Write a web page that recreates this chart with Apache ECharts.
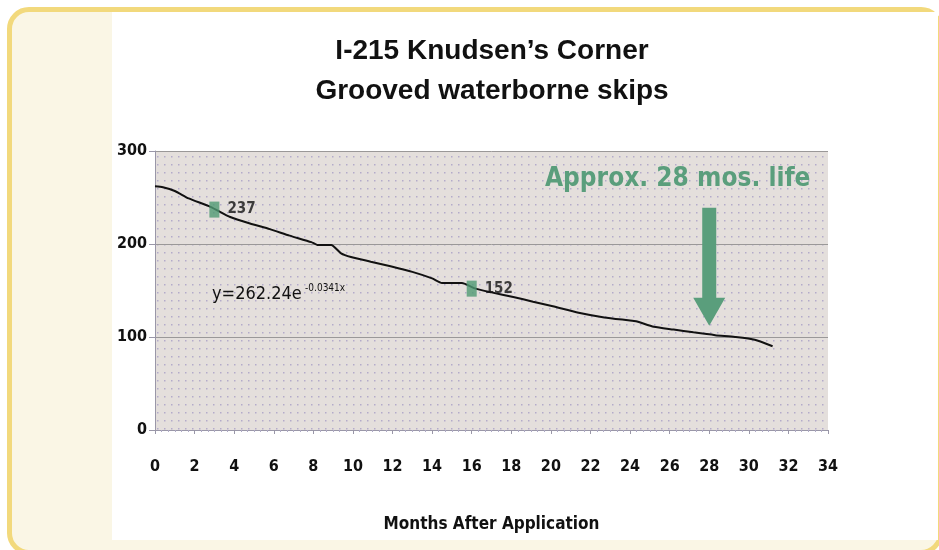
<!DOCTYPE html>
<html>
<head>
<meta charset="utf-8">
<script src="https://cdn.jsdelivr.net/npm/echarts@6/dist/echarts.min.js"></script>
<style>
  body { margin: 0; background: #fff; }
  .frame {
    position: absolute; left: 7px; top: 7px; width: 936px; height: 548px;
    box-sizing: border-box; border: 5px solid #f2d97c; border-radius: 22px;
    background: #faf6e5;
  }
  .paper { position: absolute; left: 112px; top: 12px; width: 826px; height: 528px; background: #fff; }
  #chart { position: absolute; left: 0; top: 0; width: 939px; height: 550px; }
</style>
</head>
<body>
<div class="frame"></div>
<div class="paper"></div>
<div id="chart"></div>
<script>
// readings (months after application, skips)
var months = [0, 0.4, 1.0, 1.7, 2.8, 3.8, 4.8, 5.8, 6.8, 7.9, 8.2, 8.9, 9.4, 9.9, 10.9, 11.9, 13.0, 14.0, 14.5, 15.5,
  16.2, 17.0, 18.1, 19.1, 20.1, 21.4, 22.7, 23.9, 24.3, 25.2, 26.2, 27.2, 28.3, 29.3, 30.3, 31.2];
var skips = [262, 261, 257, 249, 240, 229, 222, 216, 209, 202, 199, 199, 190, 186, 181, 176, 170, 163, 158, 158,
  152, 148, 143, 138, 133, 126, 121, 118, 117, 111, 108, 105, 102, 100, 97, 90];
// measured points
var pointMonths = [3, 16];
var pointValues = [237, 152];
var lifeMonth = 28;
var lifeValue = 112;

var narrow = '"Liberation Sans Narrow", "DejaVu Sans Condensed", sans-serif';
var green = '#5a9e7c';

// dotted plot background
var tile = document.createElement('canvas');
tile.width = 7; tile.height = 8;
var c = tile.getContext('2d');
c.fillStyle = '#e4dfdc';
c.fillRect(0, 0, 7, 8);
c.fillStyle = '#b3abca';
c.fillRect(3, 4, 1.5, 1.5);

var linePts = months.map(function (m, i) { return [m, skips[i]]; });
var markPts = pointMonths.map(function (m, i) { return [m, pointValues[i]]; });

var chart = echarts.init(document.getElementById('chart'));
chart.setOption({
  animation: false,
  title: {
    text: 'I-215 Knudsen\u2019s Corner\nGrooved waterborne skips',
    left: 487, top: 26, textAlign: 'center',
    textStyle: { fontFamily: 'Liberation Sans, Arial, sans-serif', fontWeight: 'bold', fontSize: 28, lineHeight: 40, color: '#111' }
  },
  grid: {
    left: 155, right: 111, top: 151, bottom: 120,
    show: true, borderWidth: 0,
    backgroundColor: { image: tile, repeat: 'repeat' }
  },
  xAxis: {
    type: 'value', min: 0, max: 34, interval: 2,
    name: 'Months After Application', nameLocation: 'middle', nameGap: 86,
    nameTextStyle: { fontFamily: narrow, fontWeight: 'bold', fontSize: 17, color: '#111' },
    axisLine: { lineStyle: { color: '#9a97a8', width: 1 } },
    axisTick: { length: 4, lineStyle: { color: '#9a97a8' } },
    minorTick: { show: true, splitNumber: 6, length: 2, lineStyle: { color: '#b0abc5' } },
    axisLabel: { margin: 29, fontFamily: narrow, fontWeight: 'bold', fontSize: 16, color: '#111' },
    splitLine: { show: false }
  },
  yAxis: {
    type: 'value', min: 0, max: 300, interval: 100,
    axisLine: { show: true, lineStyle: { color: '#9a97a8', width: 1 } },
    axisTick: { show: true, length: 6, lineStyle: { color: '#9a97a8' } },
    axisLabel: { margin: 8, fontFamily: narrow, fontWeight: 'bold', fontSize: 16, color: '#111' },
    splitLine: { lineStyle: { color: '#9a9898', width: 1 } }
  },
  series: [
    {
      type: 'line', data: linePts, showSymbol: false, smooth: 0.2,
      lineStyle: { color: '#111', width: 2 }, z: 3,
      markPoint: {
        silent: true,
        symbol: 'path://M9,0 L23,0 L23,90 L32,90 L16,118 L0,90 L9,90 Z',
        symbolSize: [32, 118],
        symbolOffset: [0, '-50%'],
        itemStyle: { color: green },
        label: { show: false },
        data: [{ coord: [lifeMonth, lifeValue] }]
      }
    },
    {
      type: 'scatter', data: markPts, symbol: 'rect', symbolSize: [10, 16], z: 4,
      itemStyle: { color: '#4f9a73' },
      label: {
        show: true, position: 'right', distance: 8,
        formatter: function (p) { return p.value[1]; },
        fontFamily: narrow, fontWeight: 'bold', fontSize: 15, color: '#111'
      }
    }
  ],
  graphic: [
    {
      type: 'text', left: 545, top: 166, z: 10,
      style: { text: 'Approx. 28 mos. life', fill: green, font: 'bold 26px ' + narrow }
    },
    {
      type: 'text', left: 212, top: 283, z: 10,
      style: {
        text: '{a|y=262.24e} {s|-0.0341x}',
        rich: {
          a: { fontFamily: narrow, fontSize: 18, fill: '#111', verticalAlign: 'bottom' },
          s: { fontFamily: narrow, fontSize: 10, fill: '#111', padding: [0, 0, 10, 0], verticalAlign: 'bottom' }
        }
      }
    }
  ]
});
</script>
</body>
</html>
